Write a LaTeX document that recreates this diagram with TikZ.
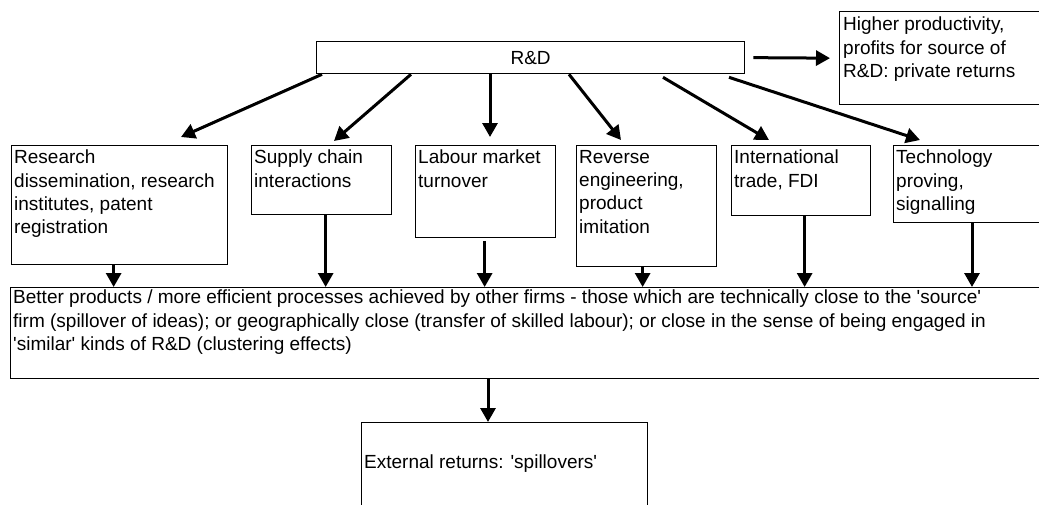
\documentclass[tikz,border=0pt]{standalone}
\usepackage{fontspec}
\setmainfont{Liberation Sans}
\usetikzlibrary{arrows.meta, calc}

\newcommand{\sq}{\textquotesingle}

\begin{document}
\begin{tikzpicture}[x=1pt, y=-1pt,
    box/.style={draw, line width=1.3pt, rectangle, anchor=north west, inner sep=0pt},
    txt/.style={anchor=north west, align=left, inner sep=0pt, font=\fontsize{19}{23.3}\selectfont},
    arr/.style={line width=3pt, -{Triangle[length=14pt, width=15pt]}}]
\useasboundingbox (0,0) rectangle (1039,504);

% boxes
\node[box, minimum width=428pt, minimum height=32pt] (rd) at (316,41) {};
\node[box, minimum width=205pt, minimum height=93pt] (hp) at (839,11) {};
\node[box, minimum width=216pt, minimum height=119pt] (res) at (11,145) {};
\node[box, minimum width=140pt, minimum height=69pt] (sup) at (251,145) {};
\node[box, minimum width=140pt, minimum height=92pt] (lab) at (415,145) {};
\node[box, minimum width=140pt, minimum height=121pt] (rev) at (576,145) {};
\node[box, minimum width=139pt, minimum height=70pt] (int) at (731,145) {};
\node[box, minimum width=155pt, minimum height=77pt] (tec) at (893,145) {};
\node[box, minimum width=1040pt, minimum height=91pt] (big) at (10,287) {};
\node[box, minimum width=286pt, minimum height=95pt] (ext) at (361,422) {};

% texts
\node[txt, anchor=center] (rd-t) at (rd.center) {R\&D};
\node[txt] (hp-t) at ([xshift=4pt,yshift=-6pt]hp.north west)
  {Higher productivity,\\profits for source of\\R\&D: private returns};
\node[txt] (res-t) at ([xshift=3pt,yshift=-5pt]res.north west)
  {Research\\dissemination, research\\institutes, patent\\registration};
\node[txt] (sup-t) at ([xshift=3pt,yshift=-5pt]sup.north west) {Supply chain\\interactions};
\node[txt] (lab-t) at ([xshift=3pt,yshift=-5pt]lab.north west) {Labour market\\turnover};
\node[txt] (rev-t) at ([xshift=3pt,yshift=-5pt]rev.north west)
  {Reverse\\engineering,\\product\\imitation};
\node[txt] (int-t) at ([xshift=3pt,yshift=-5pt]int.north west) {International\\trade, FDI};
\node[txt] (tec-t) at ([xshift=3pt,yshift=-5pt]tec.north west) {Technology\\proving,\\signalling};
\node[txt] (big-t) at ([xshift=3pt,yshift=-3pt]big.north west)
  {Better products / more efficient processes achieved by other firms - those which are technically close to the \sq source\sq\\
   firm (spillover of ideas); or geographically close (transfer of skilled labour); or close in the sense of being engaged in\\
   \sq similar\sq{} kinds of R\&D (clustering effects)};
\node[txt, anchor=base west] (ext-t) at ([xshift=3pt,yshift=-46pt]ext.north west)
  {External returns: \sq spillovers\sq};

% arrows out of R&D
\draw[arr] (rd.east) ++(8,0) -- ([xshift=-9pt]hp.west);
\draw[arr] ([xshift=6pt]rd.south west) -- ([xshift=170pt,yshift=8pt]res.north west);
\draw[arr] ([xshift=95pt]rd.south west) -- ([xshift=83pt,yshift=4pt]sup.north west);
\draw[arr] ([xshift=174pt]rd.south west) -- ([xshift=75pt,yshift=8pt]lab.north west);
\draw[arr] ([xshift=253pt]rd.south west) -- ([xshift=45pt,yshift=5pt]rev.north west);
\draw[arr] ([xshift=347pt,yshift=-3pt]rd.south west) -- ([xshift=38pt,yshift=5pt]int.north west);
\draw[arr] ([xshift=413pt,yshift=-3pt]rd.south west) -- ([xshift=27pt,yshift=5pt]tec.north west);

% arrows into the big box
\draw[arr] ([xshift=-6pt]res.south) -- ([xshift=-6pt]res.south |- big.north);
\draw[arr] ([xshift=4pt]sup.south) -- ([xshift=4pt]sup.south |- big.north);
\draw[arr] ([xshift=-1pt,yshift=-3pt]lab.south) -- ([xshift=-1pt]lab.south |- big.north);
\draw[arr] ([xshift=-4pt]rev.south) -- ([xshift=-4pt]rev.south |- big.north);
\draw[arr] ([xshift=3.5pt]int.south) -- ([xshift=3.5pt]int.south |- big.north);
\draw[arr] ([xshift=79pt]tec.south west) -- ([xshift=79pt]tec.south west |- big.north);

\draw[arr] ([xshift=127pt]ext.north west |- big.south) -- ([xshift=127pt]ext.north west);
\end{tikzpicture}
\end{document}
